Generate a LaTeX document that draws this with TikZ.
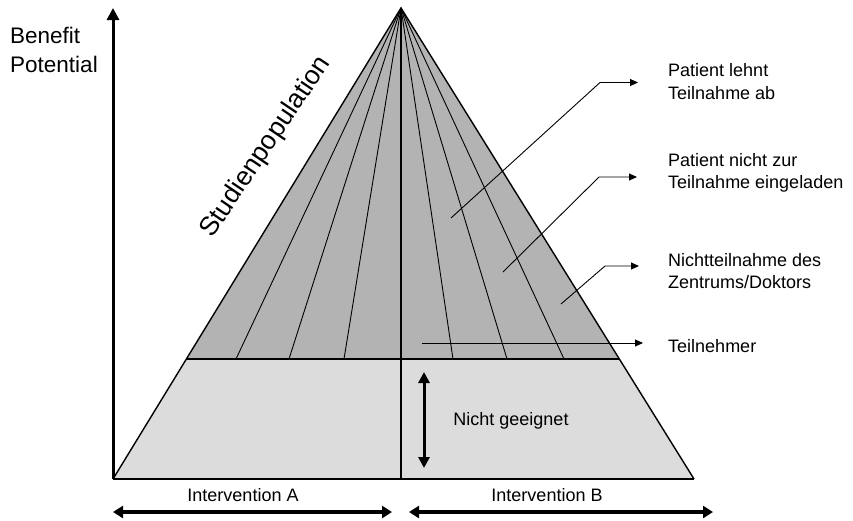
\documentclass[tikz,border=0pt]{standalone}
\usepackage{fontspec}
\setmainfont{Liberation Sans}
\usetikzlibrary{arrows.meta}
\definecolor{darkfill}{HTML}{B3B3B3}
\definecolor{lightfill}{HTML}{DCDCDC}
\definecolor{baseline}{HTML}{333333}
\begin{document}
\begin{tikzpicture}[x=1pt,y=-1pt,
  lbl/.style={font=\fontsize{18}{22.5}\selectfont, align=left, anchor=west, inner sep=0pt},
  midlbl/.style={font=\fontsize{18}{22.5}\selectfont, inner sep=0pt},
  fan/.style={line width=0.9pt},
  leader/.style={line width=0.9pt, -{Triangle[length=8pt,width=7pt]}},
  bigarrow/.style={line width=4pt, {Triangle[length=10pt,width=12pt]}-{Triangle[length=10pt,width=12pt]}},
  midarrow/.style={line width=3pt, {Triangle[length=11pt,width=11pt]}-{Triangle[length=11pt,width=11pt]}}]
\useasboundingbox (0,0) rectangle (853,520);
% pyramid
\coordinate (apex) at (401,8);
\coordinate (bl) at (113,479);
\coordinate (br) at (694,479);
\coordinate (bm) at (401,479);
\coordinate (ml) at (186.4,359);
\coordinate (mr) at (619.4,359);
\fill[lightfill] (ml) -- (mr) -- (br) -- (bl) -- cycle;
\fill[darkfill] (apex) -- (ml) -- (mr) -- cycle;
\foreach \x in {236,289,344,453,507,564} \draw[fan] (apex) -- (\x,359);
\draw[line width=1.3pt] (ml) -- (mr);
\draw[line width=1.4pt] (bl) -- (apex) -- (br);
\draw[line width=2pt, baseline] (bl) -- (br);
\draw[line width=1.8pt] (apex) -- (bm);
% axis
\coordinate (axtop) at (113,8);
\draw[line width=3pt, -{Triangle[length=12pt,width=12pt]}] (bl) -- (axtop);
\node[lbl, font=\fontsize{22.5}{29}\selectfont] (benefit) at (10,50) {Benefit\\Potential};
% Studienpopulation
\node[inner sep=0pt, rotate=56, font=\fontsize{26.5}{30}\selectfont] (stud) at (266,147) {Studienpopulation};
% right labels
\node[lbl] (l1) at (668,81.5) {Patient lehnt\\Teilnahme ab};
\node[lbl] (l2) at (668,173) {Patient nicht zur\\Teilnahme eingeladen};
\node[lbl] (l3) at (668,271) {Nichtteilnahme des\\Zentrums/Doktors};
\node[lbl] (l4) at (668,346) {Teilnehmer};
% leaders
\coordinate (s1) at (451,218); \coordinate (k1) at (600,82.5); \coordinate (t1) at (638,82.5);
\coordinate (s2) at (503,272); \coordinate (k2) at (599,177); \coordinate (t2) at (637,177);
\coordinate (s3) at (561,304); \coordinate (k3) at (605,266); \coordinate (t3) at (639,266);
\coordinate (s4) at (422,343); \coordinate (t4) at (643,343);
\draw[leader] (s1) -- (k1) -- (t1);
\draw[leader] (s2) -- (k2) -- (t2);
\draw[leader] (s3) -- (k3) -- (t3);
\draw[leader] (s4) -- (t4);
% Nicht geeignet
\coordinate (ngtop) at (424,372);
\coordinate (ngbot) at (424,468);
\draw[midarrow] (ngtop) -- (ngbot);
\node[midlbl] (ng) at (511,421) {Nicht geeignet};
% interventions
\coordinate (a1) at (113,512); \coordinate (a2) at (392,512);
\coordinate (b1) at (409,512); \coordinate (b2) at (713,512);
\draw[bigarrow] (a1) -- (a2);
\draw[bigarrow] (b1) -- (b2);
\node[midlbl] (ia) at (243,495.5) {Intervention A};
\node[midlbl] (ib) at (547,495.5) {Intervention B};
\end{tikzpicture}
\end{document}
